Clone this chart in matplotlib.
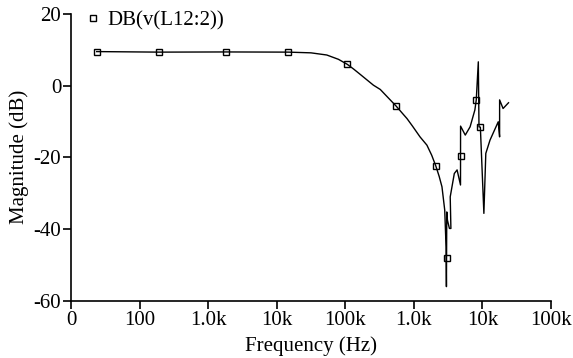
import matplotlib
matplotlib.use("Agg")
import matplotlib.pyplot as plt
from matplotlib.lines import Line2D

# Frequency response data (Hz, dB)
freq_hz = [2.37, 19.5, 182, 1480, 3160, 5370, 7940, 10700, 13200, 15800, 20000,
           25700, 32400, 41700, 55000, 69200, 79400, 95500, 123000, 155000,
           182000, 209000, 234000, 257000, 282000, 295000,
           298500, 302000, 309000, 330000, 347000, 339000, 389000, 427000, 479000,
           480000, 562000, 661000, 776000, 813000, 871000, 891000, 933000,
           1050000, 1120000, 1290000, 1700000, 1780000, 1781000, 2000000, 2400000]
mag_db = [9.45, 9.3, 9.35, 9.3, 9.1, 8.5, 7.3, 5.9, 4.6, 3.4, 1.8,
          0.1, -1.1, -3.3, -5.7, -7.9, -9.2, -11.3, -14.3, -16.6,
          -19.4, -22.4, -25.3, -28.2, -34.7, -45.0,
          -56.0, -35.2, -37.5, -39.8, -39.8, -31.0, -24.5, -23.5, -27.7,
          -11.3, -13.8, -11.5, -6.8, -4.0, 6.6, -11.5, -11.6,
          -35.6, -18.9, -15.2, -10.1, -14.3, -4.0, -6.4, -4.8]

# Marker positions (Hz, dB)
marker_hz = [2.37, 19.5, 182, 1480, 10700, 55000, 209000, 302000, 479000, 813000, 933000]
marker_db = [9.45, 9.3, 9.35, 9.3, 5.9, -5.7, -22.4, -48.0, -19.6, -4.0, -11.6]

tick_hz = [1, 10, 100, 1000, 10000, 100000, 1000000, 10000000]
tick_labels = ["0", "100", "1.0k", "10k", "100k", "1.0k", "10k", "100k"]
ytick_vals = [-60, -40, -20, 0, 20]
series_name = "DB(v(L12:2))"

plt.rcParams['font.family'] = ['Liberation Serif', 'DejaVu Serif']

fig = plt.figure(figsize=(5.73, 3.58), dpi=100)
ax = fig.add_axes([71/573, 1 - 301/358, 480/573, 287.3/358])

ax.plot(freq_hz, mag_db, color='black', lw=1.0)
ax.plot(marker_hz, marker_db, ls='none', marker='s', ms=4.5, mfc='none',
        mec='black', mew=1.0)

ax.set_xscale('log')
ax.set_xlim(1, 1e7)
ax.set_ylim(-60, 20)
ax.set_xticks(tick_hz)
ax.set_xticklabels(tick_labels)
ax.minorticks_off()
ax.set_yticks(ytick_vals)
ax.set_yticklabels([str(v) for v in ytick_vals])

for s in ['top', 'right']:
    ax.spines[s].set_visible(False)
for s in ['left', 'bottom']:
    ax.spines[s].set_linewidth(1.2)
ax.tick_params(direction='out', length=5.5, width=1.2, labelsize=15, pad=1.5)

ax.set_xlabel("Frequency (Hz)", fontsize=15, labelpad=5)
ax.set_ylabel("Magnitude (dB)", fontsize=15, labelpad=3)

handle = Line2D([], [], ls='none', marker='s', ms=4.5, mfc='none', mec='black', mew=1.0)
ax.legend([handle], [series_name], loc='center left', bbox_to_anchor=(0.0328, 0.975),
          frameon=False, fontsize=15, handletextpad=0.37, handlelength=0.6,
          borderaxespad=0, borderpad=0)

fig.savefig("out.png", dpi=100)
